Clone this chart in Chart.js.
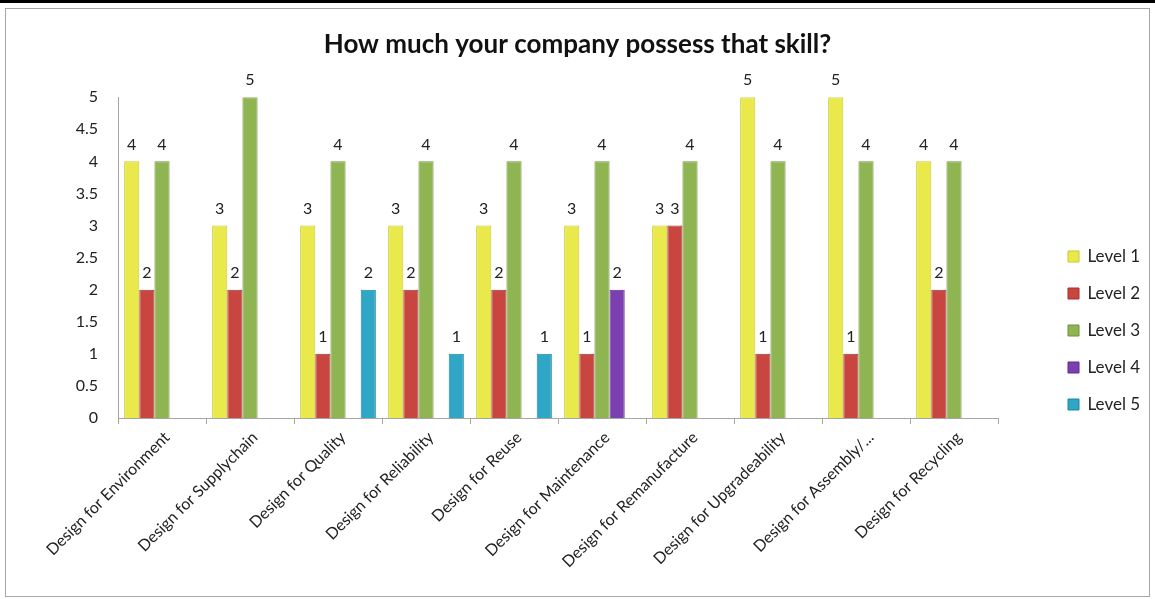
<!DOCTYPE html>
<html lang="en">
<head>
<meta charset="UTF-8">
<title>How much your company possess that skill?</title>
<script src="https://cdn.jsdelivr.net/npm/chart.js"></script>
<style>
  body { margin: 0; background: #fff; }
  .faixa { position: absolute; left: 0; top: 0; width: 1155px; height: 3px; background: #000; }
  .quadro { position: absolute; left: 5px; top: 8px; width: 1143px; height: 587px; border: 1px solid #a6a6a6; }
</style>
</head>
<body>
<div class="faixa"></div>
<div class="quadro">
  <canvas id="grafico" width="1143" height="587"></canvas>
</div>

<script>
// dados
const categorias = [
  'Design for Environment',
  'Design for Supplychain',
  'Design for Quality',
  'Design for Reliability',
  'Design for Reuse',
  'Design for Maintenance',
  'Design for Remanufacture',
  'Design for Upgradeability',
  'Design for Assembly/...',
  'Design for Recycling',
];

const nivel1 = [4, 3, 3, 3, 3, 3, 3, 5, 5, 4];
const nivel2 = [2, 2, 1, 2, 2, 1, 3, 1, 1, 2];
const nivel3 = [4, 5, 4, 4, 4, 4, 4, 4, 4, 4];
const nivel4 = [null, null, null, null, null, 2, null, null, null, null];
const nivel5 = [null, null, 2, 1, 1, null, null, null, null, null];

const marcasY = [0, 0.5, 1, 1.5, 2, 2.5, 3, 3.5, 4, 4.5, 5];

Chart.defaults.font.family = 'Lato, "Open Sans", sans-serif';
Chart.defaults.color = '#222';

// escreve o valor em cima de cada barra
const rotulos = {
  id: 'rotulos',
  afterDatasetsDraw(chart) {
    const ctx = chart.ctx;
    ctx.save();
    ctx.font = '16px Lato, sans-serif';
    ctx.fillStyle = '#222';
    ctx.textAlign = 'center';
    ctx.textBaseline = 'bottom';
    chart.data.datasets.forEach((ds, i) => {
      const meta = chart.getDatasetMeta(i);
      if (meta.hidden) return;
      meta.data.forEach((barra, j) => {
        const v = ds.data[j];
        if (v == null) return;
        ctx.fillText(v, barra.x, barra.y - 9);
      });
    });
    ctx.restore();
  }
};

// legenda afastada da area do grafico
const legendaLonge = {
  id: 'legendaLonge',
  afterInit(chart) {
    const lg = chart.legend;
    const fitOriginal = lg.fit;
    lg.fit = function () {
      fitOriginal.call(this);
      this.width = 151;
    };
  },
  afterLayout(chart) {
    const lg = chart.legend;
    lg.left = 1062 - 20;
    lg.top = 219;
  }
};

const dados = {
  labels: categorias,
  datasets: [
    { label: 'Level 1', data: nivel1, backgroundColor: '#e9e94c', borderColor: '#c9c92e', borderWidth: 1 },
    { label: 'Level 2', data: nivel2, backgroundColor: '#c8463f', borderColor: '#a5302b', borderWidth: 1 },
    { label: 'Level 3', data: nivel3, backgroundColor: '#8fb552', borderColor: '#6f9138', borderWidth: 1 },
    { label: 'Level 4', data: nivel4, backgroundColor: '#7b3fb0', borderColor: '#5e2a8c', borderWidth: 1 },
    { label: 'Level 5', data: nivel5, backgroundColor: '#2fa6c6', borderColor: '#1d84a1', borderWidth: 1 },
  ]
};

const config = {
  type: 'bar',
  data: dados,
  plugins: [rotulos, legendaLonge],
  options: {
    responsive: false,
    animation: false,
    layout: { padding: 0 },
    datasets: {
      bar: { categoryPercentage: 0.86, barPercentage: 1.0 }
    },
    plugins: {
      title: {
        display: true,
        text: 'How much your company possess that skill?',
        color: '#111',
        font: { size: 26, weight: 'bold' },
        padding: { top: 20, bottom: 37 }
      },
      legend: {
        position: 'right',
        align: 'start',
        labels: {
          boxWidth: 11,
          boxHeight: 11,
          padding: 20,
          color: '#222',
          font: { size: 17 }
        }
      },
      tooltip: { enabled: false }
    },
    scales: {
      x: {
        grid: { display: true, drawOnChartArea: false, tickLength: 6, color: '#a6a6a6' },
        border: { color: '#a6a6a6' },
        ticks: { maxRotation: 45, minRotation: 45, autoSkip: false, padding: 4, labelOffset: 5, color: '#222', font: { size: 16 } },
        afterFit(scale) { scale.height = 178; }
      },
      y: {
        min: 0,
        max: 5,
        grid: { display: false },
        border: { display: true, color: '#a6a6a6' },
        ticks: { padding: 12, color: '#222', font: { size: 16 }, callback: v => String(v) },
        afterBuildTicks(axis) { axis.ticks = marcasY.map(v => ({ value: v })); },
        afterFit(scale) { scale.width = 112; }
      }
    }
  }
};

const grafico = new Chart(document.getElementById('grafico'), config);
</script>
</body>
</html>
